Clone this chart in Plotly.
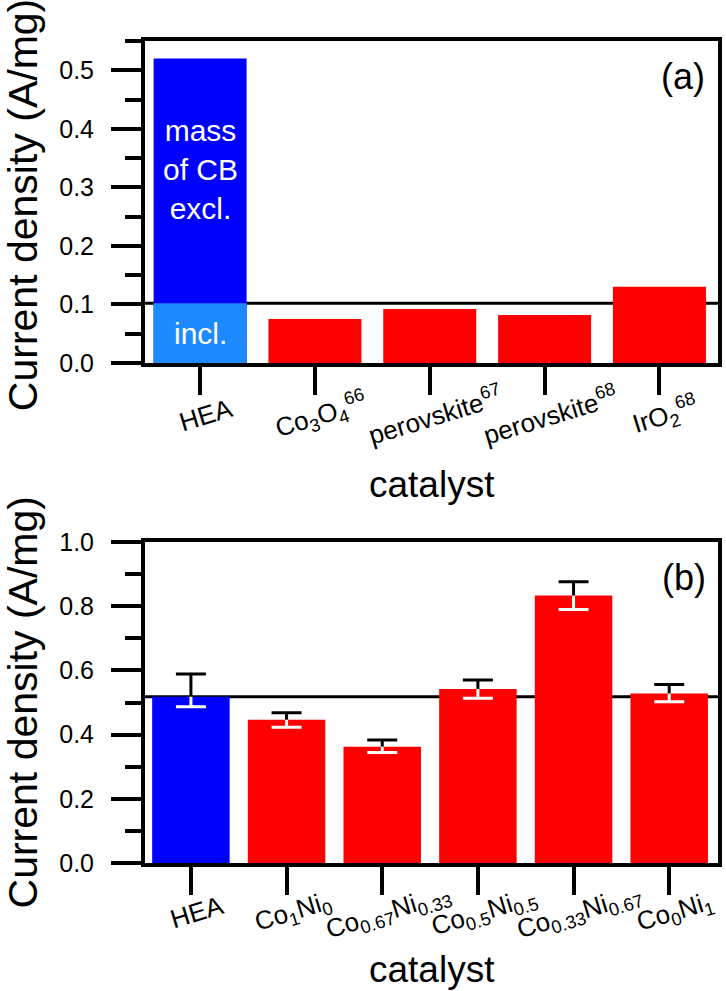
import plotly.graph_objects as go

# ---------------- data ----------------
# panel (a)
cats_a = ["HEA", "Co3O4", "perovskite67", "perovskite68", "IrO2"]
labels_a = ["HEA", "Co<sub>3</sub>O<sub>4</sub><sup>66</sup>", "perovskite<sup>67</sup>",
            "perovskite<sup>68</sup>", "IrO<sub>2</sub><sup>68</sup>"]
hea_excl = [0.52]
hea_incl = [0.102]
lit_cats = ["Co3O4", "perovskite67", "perovskite68", "IrO2"]
lit_vals = [0.075, 0.092, 0.082, 0.13]

# panel (b)
cats_b = ["HEA", "Co1Ni0", "Co0.67Ni0.33", "Co0.5Ni0.5", "Co0.33Ni0.67", "Co0Ni1"]
labels_b = ["HEA", "Co<sub>1</sub>Ni<sub>0</sub>", "Co<sub>0.67</sub>Ni<sub>0.33</sub>",
            "Co<sub>0.5</sub>Ni<sub>0.5</sub>", "Co<sub>0.33</sub>Ni<sub>0.67</sub>",
            "Co<sub>0</sub>Ni<sub>1</sub>"]
vals_b = [0.518, 0.446, 0.362, 0.542, 0.833, 0.528]
err_up = [0.071, 0.022, 0.021, 0.028, 0.043, 0.028]
err_dn = [0.031, 0.023, 0.018, 0.029, 0.043, 0.026]
colors_b = ["#0000FF", "#FF0000", "#FF0000", "#FF0000", "#FF0000", "#FF0000"]

FONT = "Liberation Sans, Arial, sans-serif"
BLUE = "#0000FF"
LBLUE = "#1E8AFF"
RED = "#FF0000"
BW = 0.81
TICKF = 25
XTICKF = 26
XANG = -17

fig = go.Figure()

# panel (a) bars
fig.add_trace(go.Bar(x=["HEA"], y=hea_excl, marker=dict(color=BLUE, line=dict(width=0)),
                     width=BW, xaxis="x", yaxis="y", showlegend=False))
fig.add_trace(go.Bar(x=["HEA"], y=hea_incl, marker=dict(color=LBLUE, line=dict(width=0)),
                     width=BW, xaxis="x", yaxis="y", showlegend=False))
fig.add_trace(go.Bar(x=lit_cats, y=lit_vals, marker=dict(color=RED, line=dict(width=0)),
                     width=BW, xaxis="x", yaxis="y", showlegend=False))

# panel (b) bars
fig.add_trace(go.Bar(x=cats_b, y=vals_b, marker=dict(color=colors_b, line=dict(width=0)),
                     width=BW, xaxis="x2", yaxis="y2", showlegend=False))

n = len(cats_b)
zeros = [0] * n
tops = [v + u for v, u in zip(vals_b, err_up)]
bottoms = [v - d for v, d in zip(vals_b, err_dn)]


def err_trace(yv, up, dn, color, w):
    return go.Scatter(x=cats_b, y=yv, mode="markers", marker=dict(size=1, opacity=0),
                      error_y=dict(type="data", symmetric=False, array=up, arrayminus=dn,
                                   color=color, thickness=3, width=w),
                      xaxis="x2", yaxis="y2", showlegend=False, hoverinfo="skip")


# upper part of error bars (black): stem + cap
fig.add_trace(err_trace(vals_b, err_up, zeros, "black", 0))
fig.add_trace(err_trace(tops, zeros, zeros, "black", 15))
# lower part of error bars (white, inside the bar): stem + cap
fig.add_trace(err_trace(vals_b, zeros, err_dn, "white", 0))
fig.add_trace(err_trace(bottoms, zeros, zeros, "white", 15))

axis_common = dict(showline=True, linecolor="black", linewidth=4, mirror=True,
                   showgrid=False, zeroline=False)

fig.update_layout(
    width=726, height=991,
    margin=dict(l=145, r=4, t=41, b=128),
    paper_bgcolor="white", plot_bgcolor="white",
    barmode="overlay",
    font=dict(family=FONT, color="black"),
    xaxis=dict(domain=[0, 1], anchor="y", type="category", categoryorder="array",
               categoryarray=cats_a, range=[-0.48, 4.51], ticks="outside",
               ticklen=28, tickwidth=4, tickcolor="black", showticklabels=False,
               **axis_common),
    yaxis=dict(domain=[0.6083, 1], anchor="x", range=[0, 0.55], dtick=0.1, tick0=0,
               tickformat=".1f", ticks="outside", ticklen=30, tickwidth=4, tickcolor="black",
               tickfont=dict(size=TICKF, family=FONT), ticklabelstandoff=12,
               minor=dict(dtick=0.05, ticks="outside", ticklen=16, tickwidth=4,
                          tickcolor="black", showgrid=False),
               **axis_common),
    xaxis2=dict(domain=[0, 1], anchor="y2", type="category", categoryorder="array",
                categoryarray=cats_b, range=[-0.48, 5.51], ticks="outside",
                ticklen=28, tickwidth=4, tickcolor="black", showticklabels=False,
                **axis_common),
    yaxis2=dict(domain=[0, 0.3905], anchor="x2", range=[0, 1.0], dtick=0.2, tick0=0,
                tickformat=".1f", ticks="outside", ticklen=30, tickwidth=4, tickcolor="black",
                tickfont=dict(size=TICKF, family=FONT), ticklabelstandoff=12,
                minor=dict(dtick=0.1, ticks="outside", ticklen=16, tickwidth=4,
                           tickcolor="black", showgrid=False),
                **axis_common),
)

# reference lines at HEA values (drawn below the bars)
fig.add_shape(type="line", xref="x domain", yref="y", x0=0, x1=1,
              y0=hea_incl[0], y1=hea_incl[0], line=dict(color="black", width=3), layer="below")
fig.add_shape(type="line", xref="x2 domain", yref="y2", x0=0, x1=1,
              y0=vals_b[0], y1=vals_b[0], line=dict(color="black", width=3), layer="below")

ann = []
# category tick labels (rotated)
for c, lab in zip(cats_a, labels_a):
    ann.append(dict(x=c, xref="x", y=0, yref="y domain", text=lab, showarrow=False,
                    textangle=XANG, xanchor="center", yanchor="middle", xshift=6, yshift=-52,
                    font=dict(size=XTICKF, family=FONT)))
for c, lab in zip(cats_b, labels_b):
    ann.append(dict(x=c, xref="x2", y=0, yref="y2 domain", text=lab, showarrow=False,
                    textangle=XANG, xanchor="center", yanchor="middle", xshift=6, yshift=-49,
                    font=dict(size=XTICKF, family=FONT)))
# axis titles
ann.append(dict(x=0.5, xref="x domain", y=-0.376, yref="y domain", text="catalyst",
                showarrow=False, xanchor="center", yanchor="middle", font=dict(size=37, family=FONT)))
ann.append(dict(x=0.5, xref="x2 domain", y=-0.333, yref="y2 domain", text="catalyst",
                showarrow=False, xanchor="center", yanchor="middle", font=dict(size=37, family=FONT)))
ann.append(dict(x=-0.213, xref="paper", y=0.49, yref="y domain", text="Current density (A/mg)",
                textangle=-90, showarrow=False, xanchor="center", yanchor="middle",
                font=dict(size=41, family=FONT)))
ann.append(dict(x=-0.213, xref="paper", y=0.5, yref="y2 domain", text="Current density (A/mg)",
                textangle=-90, showarrow=False, xanchor="center", yanchor="middle",
                font=dict(size=41, family=FONT)))
# panel labels
ann.append(dict(x=0.939, xref="x domain", y=0.891, yref="y domain", text="(a)",
                showarrow=False, xanchor="center", yanchor="middle", font=dict(size=36, family=FONT)))
ann.append(dict(x=0.941, xref="x2 domain", y=0.888, yref="y2 domain", text="(b)",
                showarrow=False, xanchor="center", yanchor="middle", font=dict(size=36, family=FONT)))
# text inside HEA bar
ann.append(dict(x="HEA", xref="x", y=0.33, yref="y", text="mass<br>of CB<br>excl.",
                showarrow=False, xanchor="center", yanchor="middle",
                font=dict(size=30, family=FONT, color="white")))
ann.append(dict(x="HEA", xref="x", y=0.051, yref="y", text="incl.",
                showarrow=False, xanchor="center", yanchor="middle",
                font=dict(size=30, family=FONT, color="white")))
fig.update_layout(annotations=ann)

fig.write_html("out.html", config={"displayModeBar": False},
               post_script="document.body.style.margin='0';document.body.style.overflow='hidden';")
